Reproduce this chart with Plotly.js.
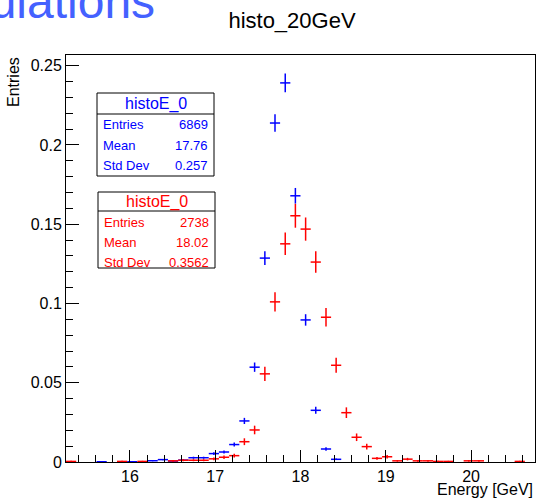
<!DOCTYPE html>
<html>
<head>
<meta charset="utf-8">
<script src="https://cdn.plot.ly/plotly-3.0.1.min.js"></script>
<style>
  html, body { margin: 0; padding: 0; background: #ffffff; }
  #chart { width: 536px; height: 499px; }
</style>
</head>
<body>
<div id="chart"></div>
<script>
// ---- data ----
const chartTitle = "histo_20GeV";
const xTitle = "Energy [GeV]";
const yTitle = "Entries";
const halfBinWidth = 0.0598;

// blue histogram (histoE_0, 6869 entries), normalised
const blueX = [15.668, 16.027, 16.266, 16.386, 16.505, 16.625, 16.745, 16.864, 16.984, 17.103, 17.223, 17.342, 17.462, 17.582, 17.701, 17.821, 17.940, 18.060, 18.179, 18.299, 18.418];
const blueY = [0.00015, 0.00015, 0.0008, 0.0015, 0.0006, 0.0012, 0.0027, 0.0027, 0.0053, 0.0063, 0.0110, 0.0259, 0.0598, 0.1286, 0.2138, 0.2391, 0.1679, 0.0896, 0.0326, 0.0082, 0.0017];
const blueErr = [0.00015, 0.00015, 0.00034, 0.00047, 0.0003, 0.00042, 0.00063, 0.00063, 0.00088, 0.00096, 0.00127, 0.00194, 0.00295, 0.00433, 0.00558, 0.0059, 0.00494, 0.00361, 0.00218, 0.00109, 0.0005];

// red histogram (histoE_0, 2738 entries), normalised
const redX = [15.310, 15.908, 16.147, 16.505, 16.625, 16.745, 16.864, 16.984, 17.103, 17.223, 17.342, 17.462, 17.582, 17.701, 17.821, 17.940, 18.060, 18.179, 18.299, 18.418, 18.538, 18.658, 18.777, 18.897, 19.016, 19.136, 19.255, 19.375, 19.495, 19.614, 19.734, 19.973, 20.092, 20.571];
const redY = [0.00037, 0.00037, 0.00037, 0.00073, 0.0011, 0.0011, 0.0011, 0.0020, 0.0030, 0.0040, 0.0128, 0.0202, 0.0556, 0.1010, 0.1376, 0.1553, 0.1469, 0.1261, 0.0913, 0.0610, 0.0311, 0.0156, 0.0097, 0.0023, 0.0033, 0.00073, 0.0018, 0.00073, 0.00073, 0.00037, 0.00037, 0.00073, 0.00073, 0.00037];
const redErr = [0.00037, 0.00037, 0.00037, 0.00052, 0.00063, 0.00063, 0.00063, 0.00085, 0.00105, 0.0012, 0.00216, 0.00272, 0.00451, 0.00607, 0.00709, 0.00753, 0.00732, 0.00679, 0.00577, 0.00472, 0.00337, 0.00239, 0.00188, 0.00092, 0.0011, 0.00052, 0.00081, 0.00052, 0.00052, 0.00037, 0.00037, 0.00052, 0.00052, 0.00037];

// stats boxes
const statLabels = ["Entries", "Mean", "Std Dev"];
const blueStats = ["6869", "17.76", "0.257"];
const redStats = ["2738", "18.02", "0.3562"];
const statName = "histoE_0";

// ---- layout helpers (pixel -> paper) ----
const W = 536, H = 499;
const L = 66, R = 535, T = 55, B = 462;
const px = x => (x - L) / (R - L);
const py = y => (B - y) / (B - T);

const BLUE = "#0000ff", RED = "#ff0000";
const FONT = "Liberation Sans, Arial, Helvetica, sans-serif";

function histTrace(x, y, e, color) {
  return {
    type: "scatter", mode: "markers", x: x, y: y,
    marker: { size: 0, color: color, opacity: 0 },
    error_y: { type: "data", array: e, visible: true, color: color, thickness: 1.5, width: 0 },
    error_x: { type: "constant", value: halfBinWidth, visible: true, color: color, thickness: 1.5, width: 0 },
    hoverinfo: "skip", showlegend: false
  };
}

const data = [histTrace(blueX, blueY, blueErr, BLUE), histTrace(redX, redY, redErr, RED)];

const shapes = [];
const annotations = [];

function statBox(x0, x1, y0, y1, yDiv, rowsY, headY, values, color) {
  shapes.push({ type: "rect", xref: "paper", yref: "paper", x0: px(x0), x1: px(x1), y0: py(y0), y1: py(y1),
    line: { color: "#000", width: 1 }, fillcolor: "#ffffff", layer: "above" });
  shapes.push({ type: "line", xref: "paper", yref: "paper", x0: px(x0), x1: px(x1), y0: py(yDiv), y1: py(yDiv),
    line: { color: "#000", width: 1 }, layer: "above" });
  annotations.push({ xref: "paper", yref: "paper", x: px((x0 + x1) / 2), y: py(headY), text: statName,
    showarrow: false, xanchor: "center", yanchor: "middle", font: { family: FONT, size: 16, color: color } });
  for (let i = 0; i < statLabels.length; i++) {
    annotations.push({ xref: "paper", yref: "paper", x: px(x0 + 4), y: py(rowsY[i]), text: statLabels[i],
      showarrow: false, xanchor: "left", yanchor: "middle", font: { family: FONT, size: 13, color: color } });
    annotations.push({ xref: "paper", yref: "paper", x: px(x1 - 4), y: py(rowsY[i]), text: values[i],
      showarrow: false, xanchor: "right", yanchor: "middle", font: { family: FONT, size: 13, color: color } });
  }
}

statBox(97, 214, 93, 176, 114, [125, 145, 165], 103.5, blueStats, BLUE);
statBox(98, 215, 192, 268, 211, [222, 242, 262], 202, redStats, RED);

// axis titles, ROOT style (right / top aligned)
annotations.push({ xref: "paper", yref: "paper", x: 1, y: py(500), text: xTitle, showarrow: false,
  xanchor: "right", yanchor: "bottom", font: { family: FONT, size: 16, color: "#000" } });
annotations.push({ xref: "paper", yref: "paper", x: px(13), y: 1, text: yTitle, showarrow: false, textangle: -90,
  xanchor: "center", yanchor: "top", font: { family: FONT, size: 16, color: "#000" } });

// partial slide heading at the top-left
annotations.push({ xref: "paper", yref: "paper", x: px(157), y: py(2), text: "Simulations", showarrow: false,
  xanchor: "right", yanchor: "middle", font: { family: FONT, size: 48, color: "#4461ff" } });

const layout = {
  width: W, height: H,
  margin: { l: L, r: W - R, t: T, b: H - B, pad: 0 },
  paper_bgcolor: "#ffffff", plot_bgcolor: "#ffffff",
  showlegend: false,
  title: { text: chartTitle, x: 292 / W, xanchor: "center", y: 1 - 20 / H, yanchor: "middle",
    font: { family: FONT, size: 22, color: "#000" } },
  xaxis: {
    range: [15.25, 20.75], dtick: 1, tick0: 0,
    showgrid: false, zeroline: false, showline: true, mirror: true, linecolor: "#000", linewidth: 1,
    ticks: "inside", ticklen: 12, tickwidth: 1, tickcolor: "#000",
    minor: { ticks: "inside", dtick: 0.2, ticklen: 7, tickwidth: 1, tickcolor: "#000", showgrid: false },
    tickfont: { family: FONT, size: 16, color: "#000" }
  },
  yaxis: {
    range: [0, 0.2567], dtick: 0.05, tick0: 0,
    showgrid: false, zeroline: false, showline: true, mirror: true, linecolor: "#000", linewidth: 1,
    ticks: "inside", ticklen: 13, tickwidth: 1, tickcolor: "#000",
    minor: { ticks: "inside", dtick: 0.01, ticklen: 7, tickwidth: 1, tickcolor: "#000", showgrid: false },
    tickfont: { family: FONT, size: 16, color: "#000" }
  },
  shapes: shapes,
  annotations: annotations
};

Plotly.newPlot("chart", data, layout, { staticPlot: true, displayModeBar: false });
</script>
</body>
</html>
